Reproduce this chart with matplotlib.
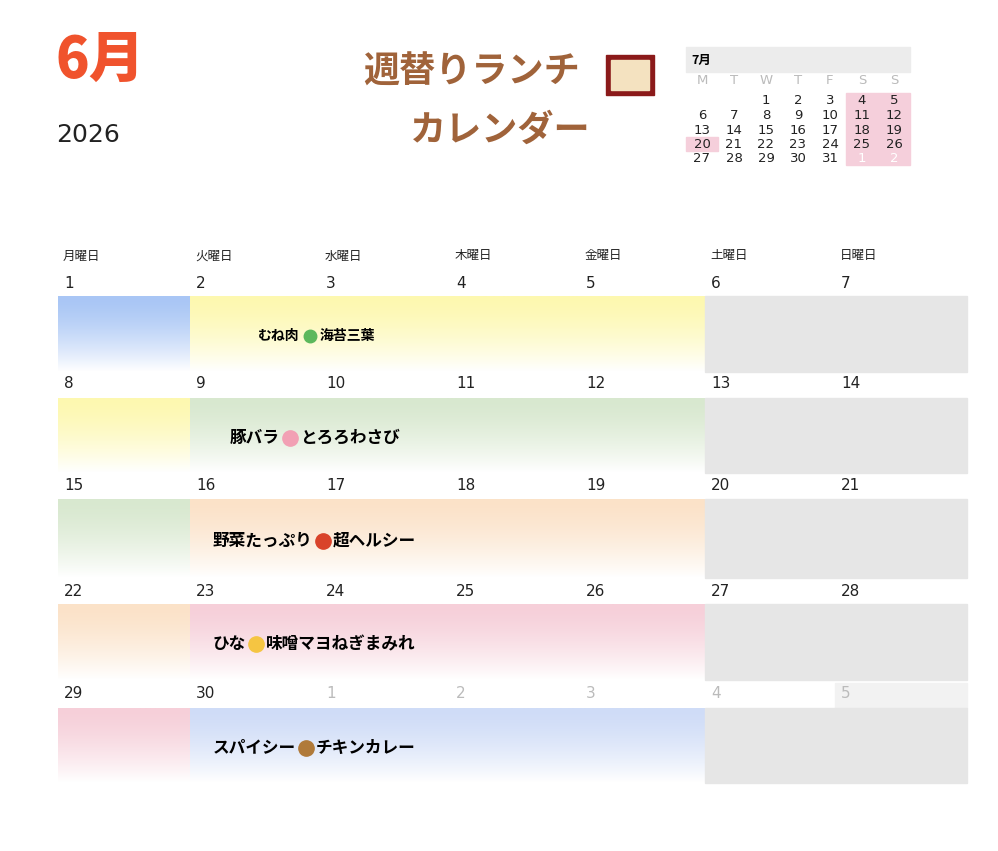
import matplotlib
matplotlib.use("Agg")
import matplotlib.pyplot as plt
import numpy as np
from matplotlib.colors import to_rgb

plt.rcParams['font.family'] = ['Noto Sans CJK JP', 'DejaVu Sans']

weekdays = ["月曜日", "火曜日", "水曜日", "木曜日", "金曜日", "土曜日", "日曜日"]
weeks = [[1, 2, 3, 4, 5, 6, 7], [8, 9, 10, 11, 12, 13, 14], [15, 16, 17, 18, 19, 20, 21],
         [22, 23, 24, 25, 26, 27, 28], [29, 30, 1, 2, 3, 4, 5]]
menus = [("むね肉", "海苔三葉", "#5cb85c"), ("豚バラ", "とろろわさび", "#f2a0b4"),
         ("野菜たっぷり", "超ヘルシー", "#d9432a"), ("ひな", "味噌マヨねぎまみれ", "#f5c542"),
         ("スパイシー", "チキンカレー", "#b07a3a")]
mon_colors = ["#a9c6f5", "#fdf8b0", "#d8e8cf", "#fbe2c8", "#f6cfd9"]
week_colors = ["#fdf8b0", "#d8e8cf", "#fbe2c8", "#f6cfd9", "#cfdcf7"]
july_weeks = [[None, None, 1, 2, 3, 4, 5], [6, 7, 8, 9, 10, 11, 12], [13, 14, 15, 16, 17, 18, 19],
              [20, 21, 22, 23, 24, 25, 26], [27, 28, 29, 30, 31, 1, 2]]
july_letters = ["M", "T", "W", "T", "F", "S", "S"]

W, H = 998, 851
fig = plt.figure(figsize=(W/100, H/100), dpi=100)
ax = fig.add_axes([0, 0, 1, 1])
ax.set_xlim(0, W); ax.set_ylim(H, 0); ax.axis('off')

def grad(x0, x1, y0, y1, c):
    r, g, b = to_rgb(c)
    t = np.linspace(0, 1, 64)
    img = np.zeros((64, 1, 3))
    img[:, 0, 0] = r + (1-r)*t**1.5
    img[:, 0, 1] = g + (1-g)*t**1.5
    img[:, 0, 2] = b + (1-b)*t**1.5
    ax.imshow(img, extent=(x0, x1, y1, y0), aspect='auto', interpolation='bilinear', zorder=1)

ax.text(56, 60, "6月", fontsize=40, fontweight='heavy', color="#f0532d", va='center')
ax.text(56, 135, "2026", fontsize=18, color="#222", va='center', family=['DejaVu Sans'])
ax.text(472, 72, "週替りランチ", fontsize=26, fontweight='bold', color="#a0633a", va='center', ha='center')
ax.add_patch(plt.Rectangle((606, 55), 48, 40, color="#8b1a1a", zorder=2))
ax.add_patch(plt.Rectangle((611, 60), 38, 30, color="#f4e2c0", zorder=3))
ax.text(500, 130, "カレンダー", fontsize=26, fontweight='bold', color="#a0633a", va='center', ha='center')

# mini calendar
ax.add_patch(plt.Rectangle((686, 47), 224, 25, color="#ececec", zorder=1))
ax.text(691, 60, "7月", fontsize=9, fontweight='bold', va='center')
mx = [702, 734, 766, 798, 830, 862, 894]
ax.add_patch(plt.Rectangle((846, 93), 64, 72, color="#f5cfdb", zorder=1))
ax.add_patch(plt.Rectangle((686, 137), 32, 14, color="#f5cfdb", zorder=1))
for i, l in enumerate(july_letters):
    ax.text(mx[i], 80, l, fontsize=9.5, color="#bbb", ha='center', va='center', family=['DejaVu Sans'])
for r, wk in enumerate(july_weeks):
    for i, d in enumerate(wk):
        if d is None: continue
        col = "white" if r == 4 and i >= 5 else "#222"
        ax.text(mx[i], 101 + r*14.5, str(d), fontsize=9.5, color=col, ha='center', va='center',
                family=['DejaVu Sans'])

cx = [58, 190, 320, 450, 580, 705, 835, 967]
for i, wd in enumerate(weekdays):
    ax.text(cx[i] + 5, 256, wd, fontsize=9, va='center', color="#222")
label_y = [283, 384, 486, 591, 694]
bands = [(296, 372), (398, 473), (499, 578), (604, 680), (708, 783)]
text_x = [258, 230, 213, 213, 213]
ax.add_patch(plt.Rectangle((835, 683), 132, 25, color="#f2f2f2", zorder=0))
for r, wk in enumerate(weeks):
    for i, d in enumerate(wk):
        col = "#bbb" if r == 4 and i >= 2 else "#222"
        ax.text(cx[i] + 6, label_y[r], str(d), fontsize=11, color=col, va='center', family=['DejaVu Sans'])
    y0, y1 = bands[r]
    grad(cx[0], cx[1], y0, y1, mon_colors[r])
    grad(cx[1], cx[5], y0, y1, week_colors[r])
    ax.add_patch(plt.Rectangle((cx[5], y0), cx[7]-cx[5], y1-y0, color="#e6e6e6", zorder=1))
    a, b, ec = menus[r]
    ym = (y0 + y1) / 2 + 2
    fs = 10 if r == 0 else 12
    t1 = ax.text(text_x[r], ym, a, fontsize=fs, fontweight='bold', va='center', zorder=3)
    fig.canvas.draw()
    bb = t1.get_window_extent().transformed(ax.transData.inverted())
    xe = bb.x1 + 10
    ax.plot([xe], [ym], 'o', ms=11 if r else 9, color=ec, zorder=3)
    ax.text(xe + 10, ym, b, fontsize=fs, fontweight='bold', va='center', zorder=3)

fig.savefig("out.png", dpi=100, facecolor='white')
